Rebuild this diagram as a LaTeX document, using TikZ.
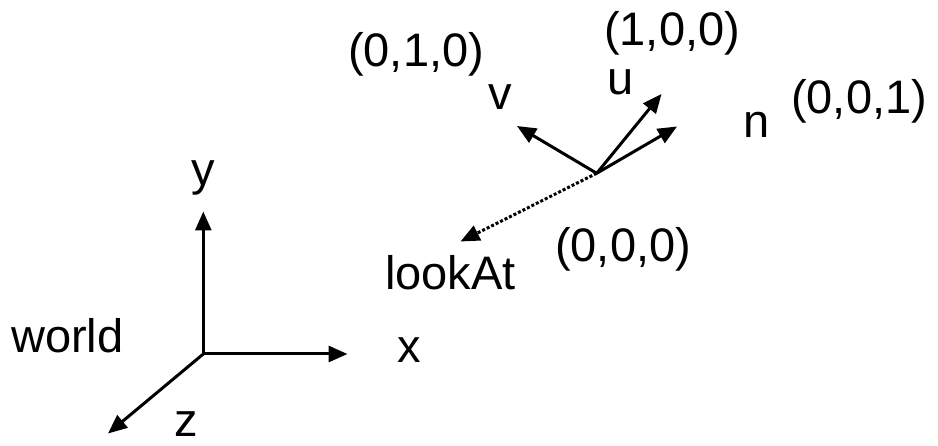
\documentclass[tikz,border=0pt]{standalone}
\usepackage{fontspec}
\setmainfont{Liberation Sans}
\usetikzlibrary{arrows.meta}

\begin{document}
\begin{tikzpicture}[x=1pt, y=-1pt]
    \tikzset{LabelStyle/.style={inner sep=0pt, anchor=base west,
        font=\fontsize{47}{56}\selectfont}}
    \tikzset{AxisStyle/.style={line width=3pt,
        -{Triangle[length=19pt, width=16pt]}}}
    \useasboundingbox (0,0) rectangle (938,446);

    % world frame
    \coordinate (O) at (203.3,354);
    \coordinate (X) at (347.5,354);
    \coordinate (Y) at (203.3,211.5);
    \coordinate (Z) at (108,433.5);
    \node[LabelStyle] (world) at (11,353) {world};
    \node[LabelStyle] (ylab)  at (191,186) {y};
    \node[LabelStyle] (xlab)  at (397,363) {x};
    \node[LabelStyle] (zlab)  at (174,437) {z};

    \draw[AxisStyle] (O) -- (X);
    \draw[AxisStyle] (O) -- (Y);
    \draw[AxisStyle] (O) -- (Z);

    % camera frame
    \coordinate (C) at (596.7,173.3);
    \coordinate (V) at (517,126);
    \coordinate (U) at (661.5,94);
    \coordinate (N) at (677,126.5);
    \coordinate (L) at (460.5,241.5);
    \node[LabelStyle] (vlab)   at (488,110) {v};
    \node[LabelStyle] (ulab)   at (607,95) {u};
    \node[LabelStyle] (nlab)   at (743,138) {n};
    \node[LabelStyle] (vcoord) at (348,67) {(0,1,0)};
    \node[LabelStyle] (ucoord) at (604,46) {(1,0,0)};
    \node[LabelStyle] (ncoord) at (791,114) {(0,0,1)};
    \node[LabelStyle] (ccoord) at (555,262) {(0,0,0)};
    \node[LabelStyle] (look)   at (385,290) {lookAt};

    \draw[AxisStyle] (C) -- (V);
    \draw[AxisStyle] (C) -- (U);
    \draw[AxisStyle] (C) -- (N);
    \draw[AxisStyle, dotted] (C) -- (L);
\end{tikzpicture}
\end{document}
